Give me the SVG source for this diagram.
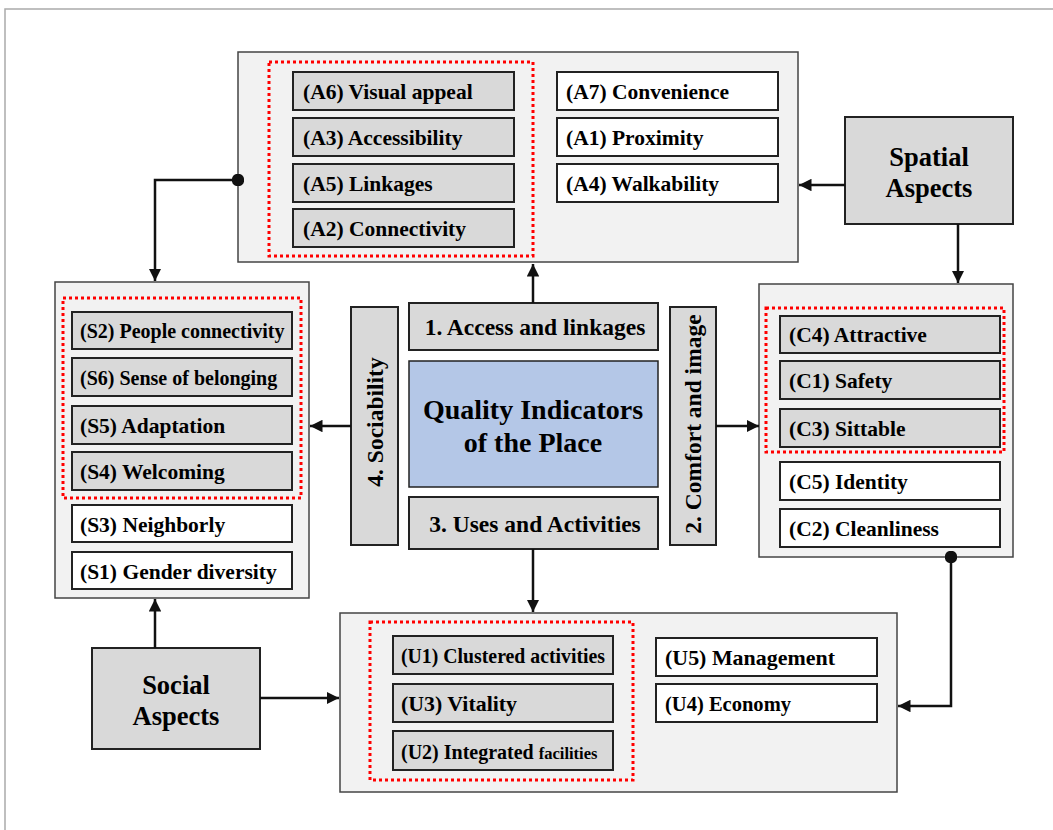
<svg xmlns="http://www.w3.org/2000/svg" width="1053" height="830" viewBox="0 0 1053 830">
<defs>
<style>
text{font-family:"Liberation Serif","Times New Roman",serif;font-weight:bold;fill:#000}
.big{fill:#f2f2f2;stroke:#444;stroke-width:1.5}
.g{fill:#d9d9d9;stroke:#222;stroke-width:2}
.w{fill:#fff;stroke:#222;stroke-width:2}
.red{fill:none;stroke:#f00;stroke-width:3;stroke-dasharray:3 3}
.it{font-size:21.5px}
.si{font-size:20px}
.ui{font-size:22px}
.hd{font-size:23.5px}
.asp{font-size:26.5px;text-anchor:middle}
.ln{fill:none;stroke:#111;stroke-width:2.5}
</style>
<marker id="ar" viewBox="0 0 10 10" refX="10" refY="5" markerWidth="5" markerHeight="5" orient="auto" markerUnits="strokeWidth"><path d="M0,0L10,5L0,10z" fill="#111"/></marker>
<marker id="dot" viewBox="0 0 10 10" refX="5" refY="5" markerWidth="5" markerHeight="5" markerUnits="strokeWidth"><circle cx="5" cy="5" r="5" fill="#111"/></marker>
</defs>
<rect width="1053" height="830" fill="#fff"/>
<path d="M5,830V9H1053" fill="none" stroke="#aaa" stroke-width="1.5"/>

<g id="access-box">
<rect class="big" x="238" y="52" width="560" height="210"/>
<rect class="red" x="269" y="62" width="264" height="194"/>
<rect class="g" x="293" y="72" width="221" height="38"/><text class="it" x="303" y="99">(A6) Visual appeal</text>
<rect class="g" x="293" y="118" width="221" height="38"/><text class="it" x="303" y="145">(A3) Accessibility</text>
<rect class="g" x="293" y="164" width="221" height="38"/><text class="it" x="303" y="191">(A5) Linkages</text>
<rect class="g" x="293" y="209" width="221" height="38"/><text class="it" x="303" y="236">(A2) Connectivity</text>
<rect class="w" x="557" y="72" width="221" height="38"/><text class="it" x="566" y="99">(A7) Convenience</text>
<rect class="w" x="557" y="118" width="221" height="38"/><text class="it" x="566" y="145">(A1) Proximity</text>
<rect class="w" x="557" y="164" width="221" height="38"/><text class="it" x="566" y="191">(A4) Walkability</text>
</g>

<g id="spatial-aspects">
<rect class="g" x="845" y="117" width="168" height="107" stroke-width="1.5"/>
<text class="asp" x="929" y="166">Spatial</text>
<text class="asp" x="929" y="197">Aspects</text>
</g>

<g id="sociability-box">
<rect class="big" x="55" y="282" width="254" height="316"/>
<rect class="red" x="63" y="298" width="238" height="200"/>
<rect class="g" x="72" y="312" width="220" height="37"/><text class="si" x="80" y="338">(S2) People connectivity</text>
<rect class="g" x="72" y="358" width="220" height="38"/><text class="si" x="80" y="385">(S6) Sense of belonging</text>
<rect class="g" x="72" y="406" width="220" height="38"/><text class="it" x="80" y="433">(S5) Adaptation</text>
<rect class="g" x="72" y="452" width="220" height="38"/><text class="it" x="80" y="479">(S4) Welcoming</text>
<rect class="w" x="72" y="505" width="220" height="37"/><text class="it" x="80" y="532">(S3) Neighborly</text>
<rect class="w" x="72" y="552" width="220" height="37"/><text class="it" x="80" y="579">(S1) Gender diversity</text>
</g>

<g id="center">
<rect class="g" x="409" y="303" width="249" height="47" stroke-width="1.5"/>
<text class="hd" x="535" y="335" text-anchor="middle">1. Access and linkages</text>
<rect x="409" y="361" width="249" height="126" fill="#b4c7e7" stroke="#222" stroke-width="1.5"/>
<text x="533" y="419" font-size="28" text-anchor="middle">Quality Indicators</text>
<text x="533" y="452" font-size="28" text-anchor="middle">of the Place</text>
<rect class="g" x="409" y="497" width="249" height="52" stroke-width="1.5"/>
<text class="hd" x="535" y="532" text-anchor="middle">3. Uses and Activities</text>
<rect class="g" x="351" y="307" width="47" height="238" stroke-width="1.5"/>
<text class="hd" transform="translate(383,422) rotate(-90)" text-anchor="middle" font-size="24">4. Sociability</text>
<rect class="g" x="670" y="307" width="46" height="238" stroke-width="1.5"/>
<text class="hd" transform="translate(701,424) rotate(-90)" text-anchor="middle">2. Comfort and image</text>
</g>

<g id="comfort-box">
<rect class="big" x="759" y="284" width="254" height="273"/>
<rect class="red" x="766" y="308" width="238" height="144"/>
<rect class="g" x="780" y="316" width="220" height="37"/><text class="it" x="789" y="342">(C4) Attractive</text>
<rect class="g" x="780" y="361" width="220" height="38"/><text class="it" x="789" y="388">(C1) Safety</text>
<rect class="g" x="780" y="409" width="220" height="38"/><text class="it" x="789" y="436">(C3) Sittable</text>
<rect class="w" x="780" y="462" width="220" height="38"/><text class="it" x="789" y="489">(C5) Identity</text>
<rect class="w" x="780" y="509" width="220" height="38"/><text class="it" x="789" y="536">(C2) Cleanliness</text>
</g>

<g id="uses-box">
<rect class="big" x="340" y="613" width="557" height="179"/>
<rect class="red" x="370" y="622" width="263" height="158"/>
<rect class="g" x="393" y="636" width="220" height="38"/><text class="ui" x="401" y="663" textLength="204" lengthAdjust="spacingAndGlyphs">(U1) Clustered activities</text>
<rect class="g" x="393" y="684" width="220" height="38"/><text class="ui" x="401" y="711" textLength="116" lengthAdjust="spacingAndGlyphs">(U3) Vitality</text>
<rect class="g" x="393" y="731" width="220" height="39"/><text x="401" y="759" font-size="20">(U2) Integrated <tspan font-size="16.5">facilities</tspan></text>
<rect class="w" x="656" y="638" width="221" height="38"/><text class="ui" x="665" y="665" textLength="170" lengthAdjust="spacingAndGlyphs">(U5) Management</text>
<rect class="w" x="656" y="684" width="221" height="38"/><text class="ui" x="665" y="711" textLength="126" lengthAdjust="spacingAndGlyphs">(U4) Economy</text>
</g>

<g id="social-aspects">
<rect class="g" x="92" y="648" width="168" height="101" stroke-width="1.5"/>
<text class="asp" x="176" y="694">Social</text>
<text class="asp" x="176" y="725">Aspects</text>
</g>

<g id="connectors">
<path class="ln" d="M533,303V264" marker-end="url(#ar)"/>
<path class="ln" d="M238,180H155V281" marker-start="url(#dot)" marker-end="url(#ar)"/>
<path class="ln" d="M845,185H799" marker-end="url(#ar)"/>
<path class="ln" d="M958,224V283" marker-end="url(#ar)"/>
<path class="ln" d="M351,426H310" marker-end="url(#ar)"/>
<path class="ln" d="M716,426H759" marker-end="url(#ar)"/>
<path class="ln" d="M951,557V706H898" marker-start="url(#dot)" marker-end="url(#ar)"/>
<path class="ln" d="M533,549V612" marker-end="url(#ar)"/>
<path class="ln" d="M155,648V599" marker-end="url(#ar)"/>
<path class="ln" d="M260,698H339" marker-end="url(#ar)"/>
</g>
</svg>
